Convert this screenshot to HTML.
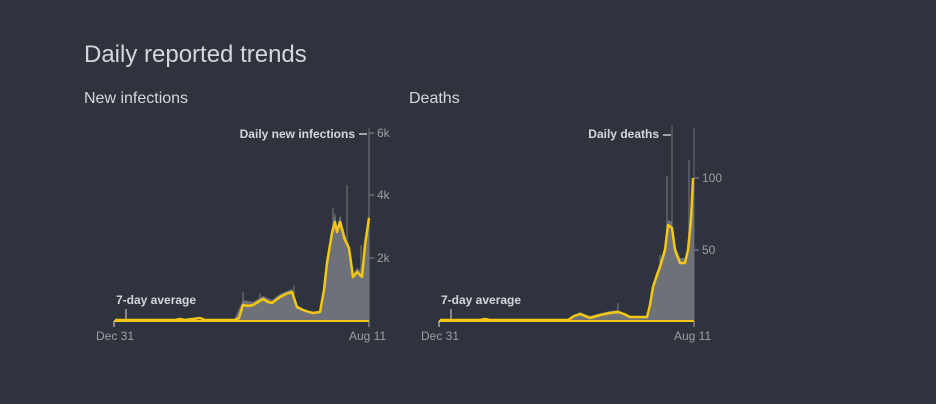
<!DOCTYPE html>
<html><head><meta charset="utf-8"><style>
html,body{margin:0;padding:0;background:#2f333e;}
svg{display:block;font-family:"Liberation Sans",sans-serif;}
</style></head><body>
<svg width="936" height="404" viewBox="0 0 936 404" xmlns="http://www.w3.org/2000/svg">
<rect width="936" height="404" fill="#2f333e"/>
<text x="84" y="62" font-size="24" fill="#d4d6dc">Daily reported trends</text>
<text x="84" y="103" font-size="16" fill="#d4d6dc">New infections</text>
<text x="409" y="103" font-size="16" fill="#d4d6dc">Deaths</text>

<!-- LEFT CHART -->
<g>
<line x1="369" y1="128" x2="369" y2="321" stroke="#666b75" stroke-width="1"/>
<g stroke="#8a8e96" stroke-width="1">
<line x1="369" y1="133" x2="374" y2="133"/><line x1="369" y1="195" x2="374" y2="195"/><line x1="369" y1="258" x2="374" y2="258"/>
</g>
<g font-size="12" fill="#9a9ea6">
<text x="377" y="137">6k</text><text x="377" y="199">4k</text><text x="377" y="262">2k</text>
<text x="96" y="340">Dec 31</text><text x="349" y="340">Aug 11</text>
</g>
<line x1="359" y1="134" x2="367" y2="134" stroke="#c8cad0" stroke-width="1.5"/>
<text x="355" y="138" font-size="12" font-weight="bold" fill="#d4d6dc" text-anchor="end">Daily new infections</text>
<text x="116" y="304" font-size="12" font-weight="bold" fill="#d4d6dc">7-day average</text>
<line x1="126" y1="309" x2="126" y2="320" stroke="#ddd" stroke-width="1"/>
<polygon fill="#6e7278" points="235,321 235,318 243,300 253,302 263,296 272,300 280,294 292,289 297,305 303,309 313,312 320,311 327,258 332,226 335,212 337,228 340,215 345,235 349,244 353,275 357,268 362,272 365,240 369,210 369,321"/>
<g stroke="#6e7278" stroke-width="1.2">
<line x1="243" y1="321" x2="243" y2="292"/><line x1="260" y1="321" x2="260" y2="293"/><line x1="294" y1="321" x2="294" y2="285"/>
<line x1="333" y1="321" x2="333" y2="208"/><line x1="347" y1="321" x2="347" y2="185"/><line x1="352" y1="321" x2="352" y2="300"/><line x1="361" y1="321" x2="361" y2="245"/><line x1="369" y1="321" x2="369" y2="133"/>
</g>
<polyline fill="none" stroke="#f3c713" stroke-width="2.5" stroke-linejoin="round" points="115,320 175,320 180,319 185,320 200,318 205,320 235,320 239,318 243,305 248,306 253,305 258,302 263,299 268,302 272,303 276,300 280,297 286,294 292,292 297,307 303,310 309,312 313,313 320,312 324,290 327,263 332,233 335,222 337,232 340,222 345,240 349,248 353,277 357,272 362,277 365,245 369,218"/>
<line x1="114" y1="321" x2="369" y2="321" stroke="#f3c713" stroke-width="2"/>
<line x1="369" y1="321" x2="369" y2="327" stroke="#aaa"/>
<line x1="114" y1="321" x2="114" y2="327" stroke="#ddd"/>
</g>

<!-- RIGHT CHART -->
<g>
<line x1="694" y1="128" x2="694" y2="321" stroke="#666b75" stroke-width="1"/>
<line x1="672" y1="125" x2="672" y2="321" stroke="#6e7278" stroke-width="1"/>
<g stroke="#8a8e96" stroke-width="1">
<line x1="694" y1="178" x2="699" y2="178"/><line x1="694" y1="250" x2="699" y2="250"/>
</g>
<g font-size="12" fill="#9a9ea6">
<text x="702" y="182">100</text><text x="702" y="254">50</text>
<text x="421" y="340">Dec 31</text><text x="674" y="340">Aug 11</text>
</g>
<line x1="663" y1="135" x2="671" y2="135" stroke="#c8cad0" stroke-width="1.5"/>
<text x="659" y="138" font-size="12" font-weight="bold" fill="#d4d6dc" text-anchor="end">Daily deaths</text>
<text x="441" y="304" font-size="12" font-weight="bold" fill="#d4d6dc">7-day average</text>
<line x1="451" y1="309" x2="451" y2="320" stroke="#ddd" stroke-width="1"/>
<polygon fill="#6e7278" points="568,321 580,312 590,316 610,311 618,310 630,316 647,316 653,283 660,262 665,245 668,220 672,222 675,245 680,258 685,258 688,245 691,215 694,170 694,321"/>
<g stroke="#6e7278" stroke-width="1.2">
<line x1="667" y1="321" x2="667" y2="176"/><line x1="660" y1="321" x2="660" y2="255"/><line x1="689" y1="321" x2="689" y2="160"/><line x1="685" y1="321" x2="685" y2="270"/><line x1="618" y1="321" x2="618" y2="303"/>
</g>
<polyline fill="none" stroke="#f3c713" stroke-width="2.5" stroke-linejoin="round" points="440,320 480,320 485,319 490,320 568,320 574,316 580,314 585,316 590,318 600,315 610,313 618,312 624,314 630,317 647,317 650,305 653,287 657,275 660,267 665,250 668,225 672,228 675,250 680,263 685,263 688,250 691,220 693,178"/>
<line x1="439" y1="321" x2="694" y2="321" stroke="#f3c713" stroke-width="2"/>
<line x1="694" y1="321" x2="694" y2="327" stroke="#aaa"/>
<line x1="439" y1="321" x2="439" y2="327" stroke="#ddd"/>
</g>
</svg>
</body></html>
